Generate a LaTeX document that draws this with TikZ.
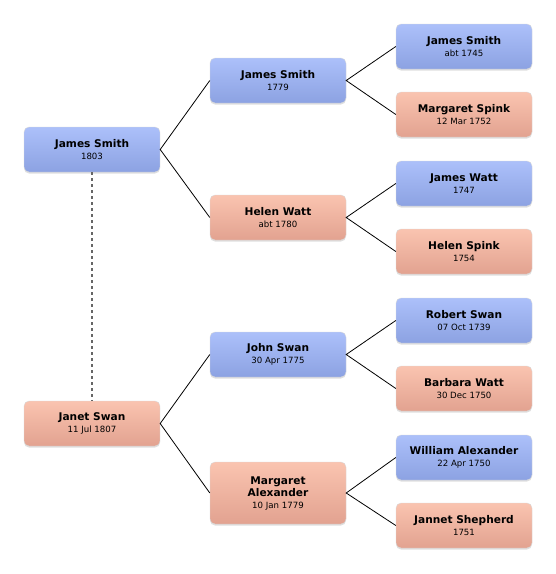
\documentclass[tikz,border=0pt]{standalone}
\usepackage{fontspec}
\setmainfont{DejaVu Sans}
\usetikzlibrary{shadows}
\definecolor{maletop}{RGB}{172,192,250}
\definecolor{malebot}{RGB}{140,162,226}
\definecolor{femtop}{RGB}{250,196,176}
\definecolor{fembot}{RGB}{226,162,144}
\tikzset{
  person/.style={rounded corners=5pt, minimum width=136pt, minimum height=45pt,
    align=center, inner sep=2pt, draw=white!85!black, line width=0.4pt,
    drop shadow={shadow xshift=0pt, shadow yshift=-1.5pt, opacity=0.25}},
  male/.style={person, top color=maletop, bottom color=malebot},
  female/.style={person, top color=femtop, bottom color=fembot},
  link/.style={black, line width=0.8pt},
}
\newcommand{\nm}[1]{{\bfseries\fontsize{10.6}{13}\selectfont #1}}
\newcommand{\dt}[1]{{\fontsize{8.6}{12.5}\selectfont #1}}
\begin{document}
\begin{tikzpicture}[x=1pt,y=-1pt]
\useasboundingbox (0,0) rectangle (556,574);
% first generation
\node[male] (js1803) at (92,149.5) {\nm{James Smith}\\\dt{1803}};
\node[female] (jswan) at (92,423.5) {\nm{Janet Swan}\\\dt{11 Jul 1807}};
% parents
\node[male] (js1779) at (278,80.5) {\nm{James Smith}\\\dt{1779}};
\node[female] (hwatt) at (278,217.5) {\nm{Helen Watt}\\\dt{abt 1780}};
\node[male] (john) at (278,354.5) {\nm{John Swan}\\\dt{30 Apr 1775}};
\node[female, minimum height=62pt] (malex) at (278,493) {\nm{Margaret}\\\nm{Alexander}\\\dt{10 Jan 1779}};
% grandparents
\node[male] (js1745) at (464,46.5) {\nm{James Smith}\\\dt{abt 1745}};
\node[female] (mspink) at (464,114.5) {\nm{Margaret Spink}\\\dt{12 Mar 1752}};
\node[male] (jwatt) at (464,183.5) {\nm{James Watt}\\\dt{1747}};
\node[female] (hspink) at (464,251.5) {\nm{Helen Spink}\\\dt{1754}};
\node[male] (rswan) at (464,320.5) {\nm{Robert Swan}\\\dt{07 Oct 1739}};
\node[female] (bwatt) at (464,388.5) {\nm{Barbara Watt}\\\dt{30 Dec 1750}};
\node[male] (walex) at (464,457.5) {\nm{William Alexander}\\\dt{22 Apr 1750}};
\node[female] (jshep) at (464,525.5) {\nm{Jannet Shepherd}\\\dt{1751}};
% links
\draw[black!60, dash pattern=on 3pt off 3pt, line width=1.2pt] (js1803) -- (jswan);
\foreach \kid/\pa/\ma in {js1803/js1779/hwatt, jswan/john/malex,
    js1779/js1745/mspink, hwatt/jwatt/hspink, john/rswan/bwatt, malex/walex/jshep}{
  \draw[link] (\pa.west) -- (\kid.east) -- (\ma.west);
}
\end{tikzpicture}
\end{document}
